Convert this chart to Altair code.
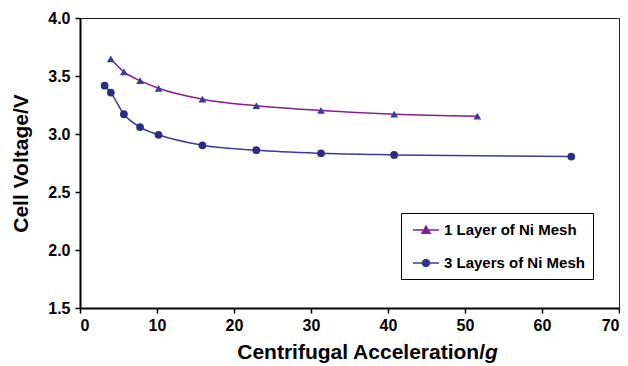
import altair as alt
import pandas as pd

series_names = ["1 Layer of Ni Mesh", "3 Layers of Ni Mesh"]

x_one = [4.0, 5.7, 7.8, 10.2, 15.9, 22.9, 31.3, 40.8, 51.6]
y_one = [3.648, 3.535, 3.46, 3.394, 3.30, 3.244, 3.203, 3.171, 3.154]

x_three = [3.2, 4.0, 5.7, 7.8, 10.2, 15.9, 22.9, 31.3, 40.8, 63.8]
y_three = [3.417, 3.357, 3.171, 3.06, 2.993, 2.903, 2.86, 2.834, 2.82, 2.805]

x_ticks = [0, 10, 20, 30, 40, 50, 60, 70]
y_ticks = [1.5, 2.0, 2.5, 3.0, 3.5, 4.0]

line_colors = ["#8B1C8B", "#3A3A9E"]
marker_colors = ["#3A3AA8", "#2C2C86"]
marker_shapes = ["triangle-up", "circle"]
legend_paths = [
    "M-1.625,0H1.625M0,-0.48L0.5,0.4L-0.5,0.4Z",
    "M-1.625,0H1.625M0.44,0A0.44,0.44 0 1,1 -0.44,0A0.44,0.44 0 1,1 0.44,0Z",
]

rows = []
for xv, yv in zip(x_one, y_one):
    rows.append({"x": xv, "y": yv, "series": series_names[0]})
for xv, yv in zip(x_three, y_three):
    rows.append({"x": xv, "y": yv, "series": series_names[1]})
df = pd.DataFrame(rows)

FONT = "Liberation Sans"

xenc = alt.X("x:Q", scale=alt.Scale(domain=[0, 70], nice=False),
             axis=alt.Axis(values=x_ticks, format="d", title=None, grid=False, labelPadding=4))
yenc = alt.Y("y:Q", scale=alt.Scale(domain=[1.5, 4.0], nice=False, zero=False),
             axis=alt.Axis(values=y_ticks, format=".1f", title="Cell Voltage/V", grid=False,
                           labelPadding=5, titlePadding=16))

base = alt.Chart(df)

lines = base.mark_line(interpolate="monotone", strokeWidth=1.5).encode(
    x=xenc, y=yenc,
    color=alt.Color("series:N", scale=alt.Scale(domain=series_names, range=line_colors), legend=None),
)

points = base.mark_point(filled=True, opacity=1).encode(
    x=xenc, y=yenc,
    fill=alt.Fill("series:N", scale=alt.Scale(domain=series_names, range=marker_colors), legend=None),
    shape=alt.Shape("series:N", scale=alt.Scale(domain=series_names, range=marker_shapes), legend=None),
    size=alt.value(60),
)

legend_layer = base.transform_filter(alt.datum.x < -1000).mark_point(filled=True, opacity=1).encode(
    x=xenc, y=yenc,
    stroke=alt.Stroke("series:N", scale=alt.Scale(domain=series_names, range=line_colors),
                      legend=alt.Legend(title=None)),
    fill=alt.Fill("series:N", scale=alt.Scale(domain=series_names, range=marker_colors),
                  legend=alt.Legend(title=None)),
    shape=alt.Shape("series:N", scale=alt.Scale(domain=series_names, range=legend_paths),
                    legend=alt.Legend(title=None)),
)

title_df = pd.DataFrame({"t": ["Centrifugal Acceleration/"], "g": ["g"]})
title_main = alt.Chart(title_df).mark_text(
    font=FONT, fontSize=21, fontWeight="bold", align="right", baseline="alphabetic", color="black"
).encode(text="t:N", x=alt.value(405), y=alt.value(341))
title_g = alt.Chart(title_df).mark_text(
    font=FONT, fontSize=21, fontWeight="bold", fontStyle="italic", align="left",
    baseline="alphabetic", color="black"
).encode(text="g:N", x=alt.value(405), y=alt.value(341))

chart = alt.layer(lines, points, legend_layer, title_main, title_g).resolve_scale(
    fill="independent", shape="independent", color="independent", stroke="independent"
).properties(
    width=539, height=290,
    autosize=alt.AutoSizeParams(type="none"),
    padding={"left": 72, "top": 10, "right": 1, "bottom": 56},
).configure_view(
    stroke="#222", strokeWidth=1
).configure_axis(
    domainColor="black", domainWidth=2, tickColor="black", tickWidth=1.5, tickSize=5,
    labelFont=FONT, labelFontSize=16, labelFontWeight="bold", labelColor="black",
    titleFont=FONT, titleFontSize=21, titleFontWeight="bold", titleColor="black",
).configure_legend(
    orient="none", legendX=321, legendY=195,
    strokeColor="black", fillColor="white", padding=8, cornerRadius=0,
    symbolSize=256, symbolStrokeWidth=1.5, symbolType="circle", symbolOffset=8,
    labelFont=FONT, labelFontSize=15, labelFontWeight="bold", labelColor="black",
    labelOffset=9, rowPadding=16, labelLimit=300,
)

chart.save("out.html", embed_options={"renderer": "svg", "actions": False})
